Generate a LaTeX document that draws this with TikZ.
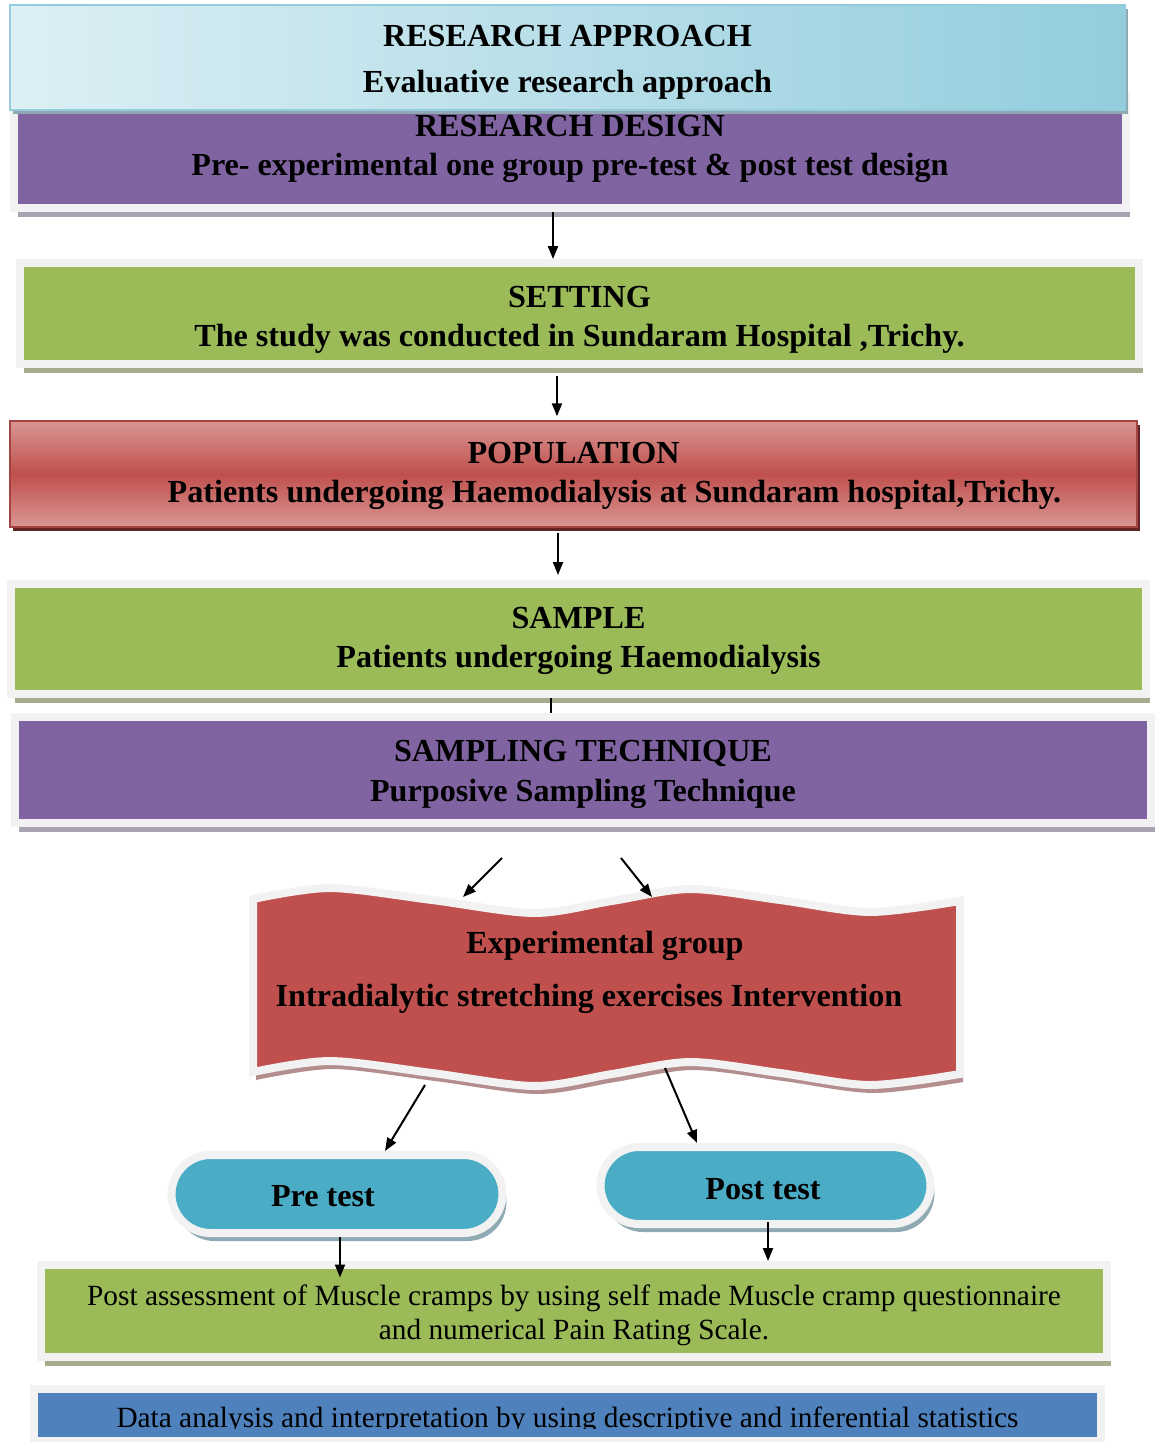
\documentclass[tikz,border=0pt]{standalone}
\usepackage{fontspec}
\setmainfont{Liberation Serif}
\usepackage{tikz}
\usetikzlibrary{calc, positioning, shadows, arrows.meta, shapes.misc}

\definecolor{framegray}{HTML}{F2F2F2}
\definecolor{boxgreen}{HTML}{9BBB59}
\definecolor{greenshadow}{HTML}{A5AD8E}
\definecolor{boxpurple}{HTML}{8064A2}
\definecolor{purpleshadow}{HTML}{A8A2B2}
\definecolor{boxred}{HTML}{C0504D}
\definecolor{redlight}{HTML}{D99694}
\definecolor{redshadow}{HTML}{632523}
\definecolor{waveshadow}{HTML}{B48E8E}
\definecolor{pillblue}{HTML}{4BACC6}
\definecolor{pillshadow}{HTML}{8FAAB3}
\definecolor{datablue}{HTML}{4F81BD}
\definecolor{bluelight}{HTML}{DCEFF4}
\definecolor{bluedark}{HTML}{93CDDD}
\definecolor{blueshadow}{HTML}{8EA9B1}

\begin{document}
\begin{tikzpicture}[x=0.02cm,y=-0.02cm,
    box font/.style={font=\fontsize{18.3}{22.5}\selectfont\bfseries},
    plain font/.style={font=\fontsize{16.7}{19.3}\selectfont},
    box text/.style={align=center,inner sep=0pt,box font},
    main box/.style={rectangle,draw=framegray,line width=0.16cm,inner sep=0pt},
    green box/.style={main box,fill=boxgreen,drop shadow={fill=greenshadow,opacity=1,shadow xshift=0.08cm,shadow yshift=-0.18cm}},
    purple box/.style={main box,fill=boxpurple,drop shadow={fill=purpleshadow,opacity=1,shadow xshift=0.08cm,shadow yshift=-0.18cm}},
    pill/.style={rounded rectangle,draw=framegray,line width=0.16cm,fill=pillblue,inner sep=0pt,
                 drop shadow={fill=pillshadow,opacity=1,shadow xshift=0.08cm,shadow yshift=-0.16cm}},
    wave/.style={fill=boxred,draw=framegray,line width=0.16cm,
                 drop shadow={fill=waveshadow,opacity=1,shadow xshift=0.06cm,shadow yshift=-0.16cm}},
    arrow/.style={-{Triangle[length=0.26cm,width=0.2cm]},line width=0.04cm}]

 \useasboundingbox (0,0) rectangle (1158,1442);
 \clip (0,0) rectangle (1158,1442);

%Top boxes
 \node[purple box,minimum width=22.26cm,minimum height=2.24cm] (design) at (570,152) {};
 \node[box text] (designText) at ([yshift=0.06cm]design.center)
      {RESEARCH DESIGN\\ Pre- experimental one group pre-test \& post test design};

 \node[rectangle,draw=bluedark,line width=0.03cm,left color=bluelight,right color=bluedark,
       inner sep=0pt,minimum width=22.3cm,minimum height=2.1cm,
       drop shadow={fill=blueshadow,opacity=1,shadow xshift=0.06cm,shadow yshift=-0.08cm}] (approach) at (567.5,57.5) {};
 \node[box text] (approachText) at ([yshift=-0.1cm]approach.center)
      {RESEARCH APPROACH\\[3.5pt] Evaluative research approach};

 \node[green box,minimum width=22.38cm,minimum height=2.02cm] (setting) at (579.5,313.5) {};
 \node[box text] (settingText) at ([yshift=-0.13cm]setting.center)
      {SETTING\\ The study was conducted in Sundaram Hospital ,Trichy.};

 \node[rectangle,draw=boxred!85!black,line width=0.03cm,top color=redlight,bottom color=redlight,middle color=boxred,
       inner sep=0pt,minimum width=22.54cm,minimum height=2.12cm,
       drop shadow={fill=redshadow,opacity=1,shadow xshift=0.06cm,shadow yshift=-0.08cm}] (population) at (573.5,474) {};
 \node[box text] (populationText) at ([yshift=-0.04cm]population.center)
      {POPULATION\\ \hspace*{1.64cm}Patients undergoing Haemodialysis at Sundaram hospital,Trichy.};

 \node[green box,minimum width=22.72cm,minimum height=2.2cm] (sample) at (578.5,639) {};
 \node[box text] (sampleText) at ([yshift=-0.04cm]sample.center)
      {SAMPLE\\ Patients undergoing Haemodialysis};

 \node[purple box,minimum width=22.74cm,minimum height=2.12cm] (sampling) at (583,770) {};
 \node[box text] (samplingText) at ([yshift=-0.09cm]sampling.center)
      {SAMPLING TECHNIQUE\\ Purposive Sampling Technique};

%Experimental group wave
 \draw[wave] plot[smooth] coordinates {(253,899) (330,888) (432,900) (534,913) (612,901) (690,889) (780,900) (870,912) (960,901)}
   -- plot[smooth] coordinates {(960,1074) (870,1085) (780,1073) (690,1062) (612,1074) (534,1086) (432,1073) (330,1061) (253,1072)}
   -- cycle;
 \node[box text] (expgroup) at (589,972.5)
      {\hspace*{0.64cm}Experimental group\\[8pt] Intradialytic stretching exercises Intervention};

 \coordinate (fanL) at (502,858);
 \coordinate (fanR) at (621,858);
 \coordinate (waveTopL) at (463,897);
 \coordinate (waveTopR) at (652,897);
 \coordinate (waveBotL) at (425,1085);
 \coordinate (waveBotR) at (665,1068);

%Tests
 \node[pill,minimum width=6.62cm,minimum height=1.56cm] (pretest) at (337,1194) {};
 \node[box text] (pretestText) at (323,1196) {Pre test};
 \node[pill,minimum width=6.6cm,minimum height=1.54cm] (posttest) at (765.5,1185.5) {};
 \node[box text] (posttestText) at (763,1189) {Post test};

%Bottom boxes
 \node[green box,minimum width=21.32cm,minimum height=1.84cm] (postassess) at (574,1311) {};
 \node[align=center,inner sep=0pt,plain font] (postassessText) at ([yshift=-0.08cm]postassess.center)
      {Post assessment of Muscle cramps by using self made Muscle cramp questionnaire\\ and numerical Pain Rating Scale.};

 \node[main box,fill=datablue,minimum width=21.36cm,minimum height=1.06cm] (data) at (567.5,1415) {};
 \begin{scope}
  \clip (30,1380) rectangle (1105,1428);
  \node[inner sep=0pt,plain font] (dataText) at ([yshift=-0.1cm]data.center)
       {Data analysis and interpretation by using descriptive and inferential statistics};
 \end{scope}
 \fill[framegray] (30,1437) rectangle (1105,1442);

%Connectors
 \draw[arrow] (design.south -| 553,0) -- (setting.north -| 553,0);
 \draw[arrow,shorten <=0.16cm,shorten >=0.08cm] (setting.south -| 557,0) -- (population.north -| 557,0);
 \draw[arrow,shorten <=0.1cm,shorten >=0.1cm] (population.south -| 558,0) -- (sample.north -| 558,0);
 \draw[line width=0.03cm] (sample.south -| 551,0) -- (sampling.north -| 551,0);

 \draw[arrow] (fanL) -- (waveTopL);
 \draw[arrow] (fanR) -- (waveTopR);
 \draw[arrow] (waveBotL) -- (pretest.north -| 385,0);
 \draw[arrow] (waveBotR) -- (posttest.north -| 697,0);

 \draw[arrow,shorten >=-0.33cm] (pretest.south -| 340,0) -- (postassess.north -| 340,0);
 \draw[arrow,shorten <=-0.12cm] (posttest.south -| 768,0) -- (postassess.north -| 768,0);

\end{tikzpicture}
\end{document}
